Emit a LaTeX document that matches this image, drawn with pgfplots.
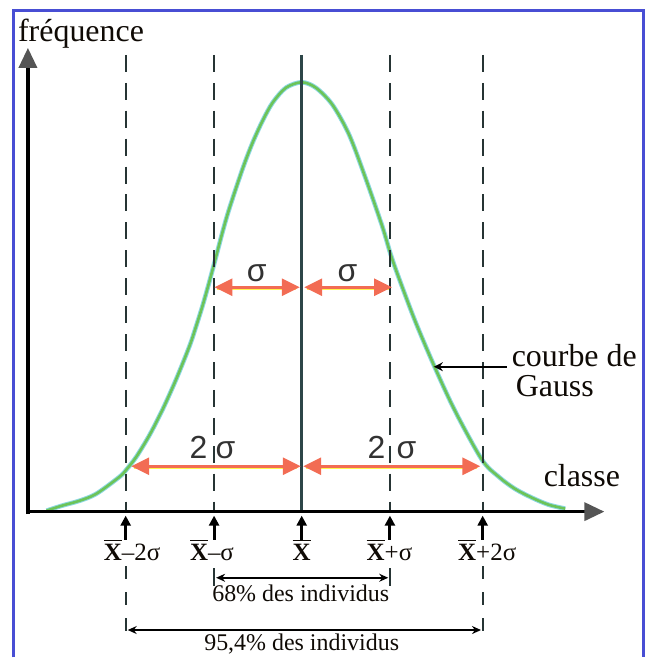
\documentclass[border=0pt]{standalone}
\usepackage{pgfplots}
\pgfplotsset{compat=1.18}
\usepackage{pgfplotstable}
\usepackage{fontspec}
\setmainfont{Liberation Serif}
\newfontfamily\sansf{Liberation Sans}
\usetikzlibrary{arrows.meta}
\definecolor{bordercol}{RGB}{72,78,212}
\definecolor{curvecol}{RGB}{108,196,88}
\definecolor{glowcol}{RGB}{140,215,225}
\definecolor{arrcol}{RGB}{242,108,84}
\definecolor{dashcol}{RGB}{38,52,52}
\definecolor{meancol}{RGB}{45,70,72}
\definecolor{headcol}{RGB}{85,85,85}
\definecolor{textcol}{RGB}{15,10,5}
\definecolor{sigcol}{RGB}{50,50,50}

% x in units of sigma (0 = mean), y = frequency (arbitrary units)
\pgfplotstableread{
x y
-2.874 1
-2.700 6
-2.500 11
-2.312 18
-2.051 35
-1.976 42
-1.863 55
-1.713 77
-1.564 103
-1.413 133
-1.264 166
-1.189 186
-1.115 207
-1.039 231
-0.964 256
-0.890 281
-0.815 304
-0.665 344
-0.553 370
-0.440 392
-0.328 410
-0.178 425
0.000 430.5
0.160 425
0.346 408
0.534 378
0.721 334
0.908 286
1.002 258
1.096 234
1.283 190
1.508 143
1.733 100
2.031 52
2.219 35
2.400 23
2.593 14
2.780 7
2.969 3
}\gausstable

\newcommand{\Xb}{\leavevmode\setbox0\hbox{\bfseries X}\rlap{\raisebox{\dimexpr\ht0+3bp\relax}{\rule{\wd0}{1.6bp}}}\box0}

\begin{document}
\begin{tikzpicture}
\begin{axis}[
  width=577bp, height=465bp, scale only axis,
  xmin=-3.0843, xmax=3.3989, ymin=0, ymax=465,
  hide axis, clip=false,
  at={(0,0)}, anchor=south west,
]
% picture frame (bounding box)
\path (axis cs:-3.3989,-146) rectangle (axis cs:3.9213,513);
% blue border, open at the bottom
\draw[bordercol, line width=3.5bp] (axis cs:-3.249,-146) -- (axis cs:-3.249,502.7) -- (axis cs:3.848,502.7) -- (axis cs:3.848,-146);

% curve
\addplot[glowcol, line width=4.6bp, smooth] table {\gausstable};
\addplot[curvecol, line width=2.6bp, smooth] table {\gausstable};

% vertical guide lines
\foreach \xx in {-1.983,-0.987,0.994,2.039}{
  \edef\tmp{\noexpand\draw[dashcol, line width=2bp, dash pattern=on 17bp off 11bp] (axis cs:\xx,458) -- (axis cs:\xx,0);}\tmp
}
\draw[meancol, line width=3bp] (axis cs:0,458) -- (axis cs:0,0);

% axes
\draw[black, line width=3.5bp, -{Triangle[length=20bp,width=18bp,color=headcol]}] (axis cs:-3.0843,-2.5) -- (axis cs:-3.0843,465);
\draw[black, line width=3.5bp, -{Triangle[length=20bp,width=18bp,color=headcol]}] (axis cs:-3.107,0) -- (axis cs:3.410,0);

% orange sigma arrows
\draw[yellow!70!white, line width=1.5bp] (axis cs:-0.95,223) -- (axis cs:-0.06,223);
\draw[yellow!70!white, line width=1.5bp] (axis cs:0.06,223) -- (axis cs:0.98,223);
\draw[yellow!70!white, line width=1.5bp] (axis cs:-1.89,43.5) -- (axis cs:-0.05,43.5);
\draw[yellow!70!white, line width=1.5bp] (axis cs:0.05,43.5) -- (axis cs:1.98,43.5);
\tikzset{oarr/.style={arrcol, line width=3bp, {Triangle[length=18bp,width=17bp]}-{Triangle[length=18bp,width=17bp]}}}
\draw[oarr] (axis cs:-0.983,225) -- (axis cs:-0.022,225);
\draw[oarr] (axis cs:0.028,225) -- (axis cs:1.017,225);
\draw[oarr] (axis cs:-1.921,45.5) -- (axis cs:-0.011,45.5);
\draw[oarr] (axis cs:0.017,45.5) -- (axis cs:2.013,45.5);

% sigma labels
\tikzset{slab/.style={anchor=base, inner sep=0pt, text=sigcol, font=\sansf\fontsize{32bp}{36bp}\selectfont}}
\node[slab] at (axis cs:-0.508,231) {σ};
\node[slab] at (axis cs:0.515,231) {σ};
\node[slab] at (axis cs:-1.163,53.7) {2};
\node[slab] at (axis cs:-0.860,53.7) {σ};
\node[slab] at (axis cs:0.843,53.7) {2};
\node[slab] at (axis cs:1.180,53.7) {σ};

% axis titles
\tikzset{tlab/.style={anchor=base west, inner sep=0pt, text=textcol, font=\fontsize{32bp}{36bp}\selectfont}}
\node[tlab] at (axis cs:-3.197,471) {fréquence};
\node[tlab] at (axis cs:2.725,25) {classe};
\node[tlab] at (axis cs:2.365,146) {courbe de};
\node[tlab] at (axis cs:2.410,115.5) {Gauss};
\draw[black, line width=1.6bp, -{Stealth[length=9bp,width=9bp]}] (axis cs:2.309,145.3) -- (axis cs:1.489,145.3);

% small up arrows under the axis
\foreach \xx in {-1.983,-0.987,0,0.994,2.039}{
  \edef\tmp{\noexpand\draw[black, line width=3bp, -{Triangle[length=10bp,width=10bp]}] (axis cs:\xx,-28) -- (axis cs:\xx,-4);}\tmp
}

% tick labels
\tikzset{xlab/.style={anchor=base, inner sep=0pt, text=textcol, font=\fontsize{25bp}{28bp}\selectfont}}
\node[xlab] at (axis cs:-1.910,-49) {\Xb–2σ};
\node[xlab] at (axis cs:-1.011,-49) {\Xb–σ};
\node[xlab] at (axis cs:0,-49) {\Xb};
\node[xlab] at (axis cs:0.989,-49) {\Xb+σ};
\node[xlab] at (axis cs:2.090,-49) {\Xb+2σ};

% 68 %
\draw[dashcol, line width=1.8bp] (axis cs:-0.987,-57) -- (axis cs:-0.987,-75);
\draw[dashcol, line width=1.8bp] (axis cs:0.994,-57) -- (axis cs:0.994,-75);
\draw[black, line width=1.5bp, {Stealth[length=9bp,width=8bp]}-{Stealth[length=9bp,width=8bp]}] (axis cs:-0.964,-66.3) -- (axis cs:0.975,-66.3);
\tikzset{plab/.style={anchor=base, inner sep=0pt, text=textcol, font=\fontsize{24bp}{27bp}\selectfont}}
\node[plab] at (axis cs:-0.011,-90) {68\% des individus};

% 95,4 %
\draw[dashcol, line width=1.8bp, dash pattern=on 13bp off 13bp] (axis cs:-1.983,-55) -- (axis cs:-1.983,-130);
\draw[dashcol, line width=1.8bp, dash pattern=on 13bp off 13bp] (axis cs:2.039,-55) -- (axis cs:2.039,-130);
\draw[black, line width=1.5bp, {Stealth[length=9bp,width=8bp]}-{Stealth[length=9bp,width=8bp]}] (axis cs:-1.960,-118.7) -- (axis cs:2.020,-118.7);
\node[plab] at (axis cs:0,-139) {95,4\% des individus};
\end{axis}
\end{tikzpicture}
\end{document}
